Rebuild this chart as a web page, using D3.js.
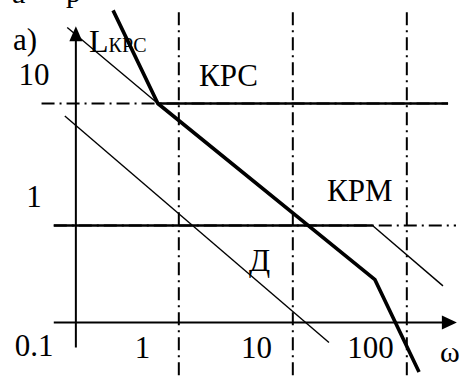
<!DOCTYPE html>
<html>
<head>
<meta charset="utf-8">
<script src="https://cdn.jsdelivr.net/npm/d3@7"></script>
<style>
  body { margin: 0; background: #fff; }
</style>
</head>
<body>
<div id="chart"></div>
<script>
// dash-dot construction lines: frequencies and levels
const freqGrid = [2, 20, 200];
const levelGrid = [10, 1];
const levelSpan = [[0.125, 460], [0.16, 540]];

// tick labels
const xTicks = [1, 10, 100];
const yTicks = [10, 1, 0.1];

// asymptotic characteristics, points as [ω, L]
const krsCurve = [[0.53, 58], [1.31, 10], [105, 0.36], [256, 0.063]];
const krsLevel = [[1.31, 10], [460, 10]];
const krmLevel = [[0.16, 1], [100, 1]];
const krmSlope = [[100, 1], [415, 0.32]];
const upperSlope = [[0.21, 42], [1.31, 10]];
const dSlope = [[0.2, 7.9], [41.5, 0.11]];

const width = 462, height = 376;
const serif = "'Liberation Serif'";

const x = d3.scaleLog().domain([1, 100]).range([144.5, 372.5]);
const y = d3.scaleLog().domain([10, 0.1]).range([103.5, 347.5]);

const svg = d3.select("#chart").append("svg")
    .attr("width", width)
    .attr("height", height);

const line = d3.line().x(d => x(d[0])).y(d => y(d[1]));

// dash-dot grid
const grid = svg.append("g")
    .attr("stroke", "#000")
    .attr("stroke-width", 2)
    .attr("stroke-dasharray", "13,5,2,5")
    .attr("fill", "none");

grid.selectAll(".vg")
  .data(freqGrid)
  .join("line")
    .attr("x1", d => x(d)).attr("x2", d => x(d))
    .attr("y1", y(56)).attr("y2", y(0.05));

grid.selectAll(".hg")
  .data(levelGrid)
  .join("line")
    .attr("y1", d => y(d)).attr("y2", d => y(d))
    .attr("x1", (d, i) => x(levelSpan[i][0]))
    .attr("x2", (d, i) => x(levelSpan[i][1]));

// axes
const ax = svg.append("g").attr("stroke", "#000").attr("stroke-width", 2);
ax.append("line")
    .attr("x1", x(0.25)).attr("x2", x(0.25))
    .attr("y1", y(0.1)).attr("y2", y(43) + 8);
ax.append("line")
    .attr("y1", y(0.16)).attr("y2", y(0.16))
    .attr("x1", x(0.16)).attr("x2", x(550) - 8);

const yt = [x(0.25), y(43)];
svg.append("path")
    .attr("d", `M${yt[0]},${yt[1]}L${yt[0] - 6.5},${yt[1] + 15}L${yt[0] + 6.5},${yt[1] + 15}Z`)
    .attr("fill", "#000");
const xt = [x(550), y(0.16)];
svg.append("path")
    .attr("d", `M${xt[0]},${xt[1]}L${xt[0] - 15},${xt[1] - 7}L${xt[0] - 15},${xt[1] + 7}Z`)
    .attr("fill", "#000");

// characteristics
const curves = svg.append("g").attr("fill", "none").attr("stroke", "#000");
curves.append("path").datum(upperSlope).attr("d", line).attr("stroke-width", 1.4);
curves.append("path").datum(dSlope).attr("d", line).attr("stroke-width", 1.4);
curves.append("path").datum(krmSlope).attr("d", line).attr("stroke-width", 1.4);
curves.append("path").datum(krmLevel).attr("d", line).attr("stroke-width", 2.6);
curves.append("path").datum(krsLevel).attr("d", line).attr("stroke-width", 2.6);
curves.append("path").datum(krsCurve).attr("d", line)
    .attr("stroke-width", 3.6)
    .attr("stroke-linejoin", "miter");

// tick labels
svg.append("g").selectAll("text")
  .data(yTicks)
  .join("text")
    .attr("font-family", serif)
    .attr("x", 34)
    .attr("y", d => d >= 1 ? y(d) - 19 : y(d) + 8)
    .attr("text-anchor", "middle")
    .attr("font-size", 31)
    .text(d => d);

svg.append("g").selectAll("text")
  .data(xTicks)
  .join("text")
    .attr("font-family", serif)
    .attr("x", d => x(d) - 2)
    .attr("y", 358)
    .attr("text-anchor", "middle")
    .attr("font-size", 31)
    .text(d => d);

// annotations
const note = (tx, ty, size, s) => svg.append("text")
    .attr("font-family", serif)
    .attr("x", tx).attr("y", ty)
    .attr("font-size", size)
    .text(s);

note(12, 3, 30, "а");
note(66, 2, 30, "р");
note(13, 50, 31, "а)");

const lbl = svg.append("text")
    .attr("font-family", serif)
    .attr("x", 89).attr("y", 52).attr("font-size", 32);
lbl.append("tspan").text("L");
lbl.append("tspan").attr("font-size", 20).text("КРС");

note(199, 86, 31, "КРС");
note(327, 201, 31, "КРМ");
note(249, 271, 31, "Д");
note(440, 362, 30, "ω");
</script>
</body>
</html>
